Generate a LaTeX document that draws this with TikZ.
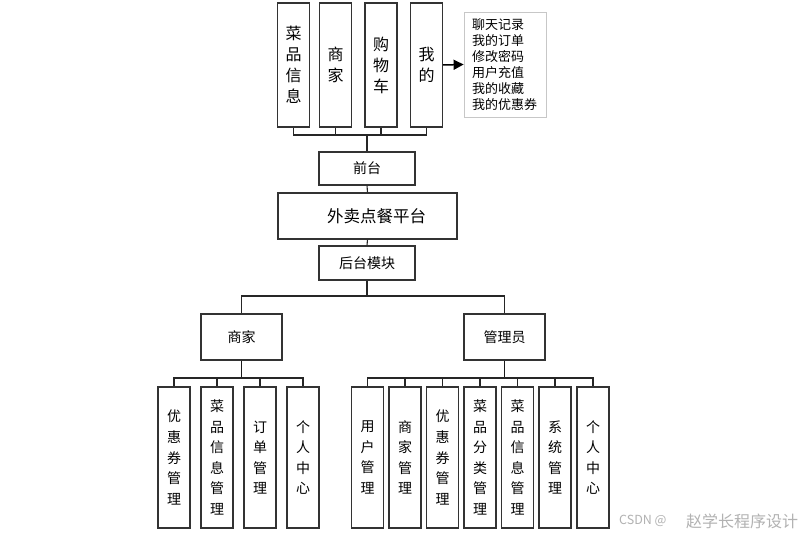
\documentclass[tikz,border=0pt]{standalone}
\usepackage{fontspec}
\setmainfont{Noto Sans CJK SC}
\usetikzlibrary{arrows.meta,shadows}
\tikzset{
  frame/.style={draw=black!80, line width=1.1pt, fill=white, inner sep=0pt, align=center},
  topbox/.style={frame, minimum width=32pt, minimum height=124pt, font={\fontsize{16}{21}\selectfont}},
  leaf/.style={frame, minimum width=32pt, minimum height=141pt, font={\fontsize{14}{20.6}\selectfont}},
  midbox/.style={frame, minimum width=96pt, minimum height=34pt, font={\fontsize{14}{16}\selectfont}},
  rolebox/.style={frame, minimum width=81pt, minimum height=46pt, font={\fontsize{14}{16}\selectfont}},
  link/.style={draw=black!85, line width=1.1pt},
  trunk/.style={draw=black!90, line width=1.5pt},
  notebox/.style={draw=black!22, line width=0.8pt, fill=white, minimum width=82pt, minimum height=105pt,
     text width=66pt, inner xsep=8pt, inner ysep=4pt, align=left, font={\fontsize{13}{16}\selectfont},
     drop shadow={shadow xshift=1.2pt, shadow yshift=-1.2pt, opacity=0.18, fill=black}},
  mark text/.style={text=black!30, inner sep=0pt, anchor=west}
}
\begin{document}
\begin{tikzpicture}[x=1pt,y=-1pt]
\path[use as bounding box, fill=white] (0,0) rectangle (810,537);

% top modules
\node[topbox] (t1) at (293.5,65) {菜\\品\\信\\息};
\node[topbox] (t2) at (335.5,65) {商\\家};
\node[topbox] (t3) at (381,65) {购\\物\\车};
\node[topbox] (t4) at (426.5,65) {我\\的};
\node[notebox] (tb) at (505,64.5) {聊天记录\\我的订单\\修改密码\\用户充值\\我的收藏\\我的优惠券};

% central column
\node[midbox, minimum height=33pt] (qt) at (367,168.5) {前台};
\node[frame, minimum width=179pt, minimum height=46pt, font={\fontsize{16.5}{18}\selectfont}] (pt) at (367.5,216) {\hspace*{18pt}外卖点餐平台};
\node[midbox] (ht) at (367,263) {后台模块};

% roles
\node[rolebox] (sj) at (241.5,337) {商家};
\node[rolebox] (gl) at (504.5,337) {管理员};

% merchant leaves
\node[leaf] (l1) at (174,457.5) {优\\惠\\券\\管\\理};
\node[leaf] (l2) at (217,457.5) {菜\\品\\信\\息\\管\\理};
\node[leaf] (l3) at (260,457.5) {订\\单\\管\\理};
\node[leaf] (l4) at (303,457.5) {个\\人\\中\\心};

% admin leaves
\node[leaf] (r1) at (367.5,457.5) {用\\户\\管\\理};
\node[leaf] (r2) at (405,457.5) {商\\家\\管\\理};
\node[leaf] (r3) at (442.5,457.5) {优\\惠\\券\\管\\理};
\node[leaf] (r4) at (480,457.5) {菜\\品\\分\\类\\管\\理};
\node[leaf] (r5) at (517.5,457.5) {菜\\品\\信\\息\\管\\理};
\node[leaf] (r6) at (555,457.5) {系\\统\\管\\理};
\node[leaf] (r7) at (593,457.5) {个\\人\\中\\心};

% bus coordinates
\coordinate (b1) at (367,135);
\coordinate (b2) at (367,296);
\coordinate (b3) at (241.5,378);
\coordinate (b4) at (504.5,378);

% top connectors
\draw[link] (t1.south) |- (b1) -| (t4.south);
\draw[link] (t2.south) -- (t2.south |- b1);
\draw[link] (t3.south) -- (t3.south |- b1);
\draw[link] (b1) -- (qt.north);
\draw[-{Triangle[length=10pt,width=10pt]}, line width=1.5pt] (t4.east) -- (tb.west);

\draw[link] (qt.south) -- (pt.north);
\draw[link] (pt.south) -- (ht.north);
\draw[link] (ht.south) -- (b2);
\draw[link] (sj.north) |- (b2) -| (gl.north);

% merchant children
\draw[trunk] (sj.south) -- (b3);
\draw[link] (l1.north) |- (b3) -| (l4.north);
\draw[link] (l2.north) -- (l2.north |- b3);
\draw[link] (l3.north) -- (l3.north |- b3);

% admin children
\draw[trunk] (gl.south) -- (b4);
\draw[link] (r1.north) |- (b4) -| (r7.north);
\draw[link] (r2.north) -- (r2.north |- b4);
\draw[link] (r3.north) -- (r3.north |- b4);
\draw[link] (r4.north) -- (r4.north |- b4);
\draw[link] (r5.north) -- (r5.north |- b4);
\draw[link] (r6.north) -- (r6.north |- b4);

% watermark
\node[mark text, font={\fontsize{12.5}{14}\selectfont}] (wm1) at (619,521) {CSDN @};
\node[mark text, font={\fontsize{16}{18}\selectfont}] (wm2) at (686,521) {赵学长程序设计};
\end{tikzpicture}
\end{document}
